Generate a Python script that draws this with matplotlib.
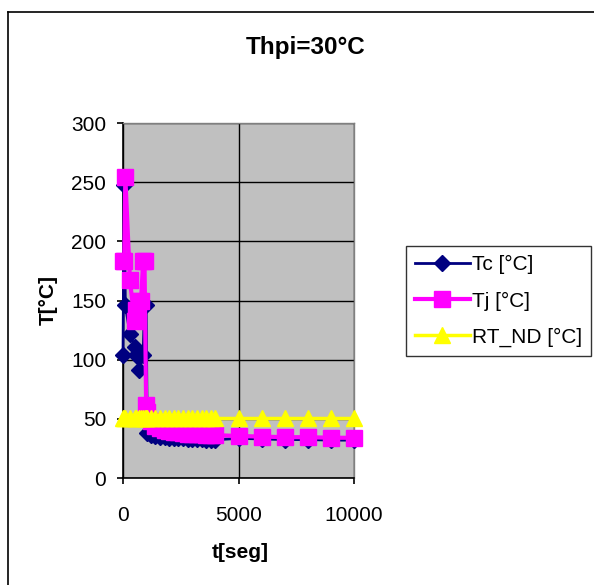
import matplotlib.pyplot as plt
from matplotlib.lines import Line2D

plt.rcParams["font.family"] = ["Liberation Sans", "DejaVu Sans"]

# time axis [s]
t = [0, 50, 100, 300, 500, 570, 700, 780, 870, 930, 1000, 1050,
     1200, 1400, 1600, 1800, 2000, 2200, 2400, 2600, 2800, 3000,
     3200, 3400, 3600, 3800, 4000,
     5000, 6000, 7000, 8000, 9000, 10000]

tc = [104, 248, 146, 122, 111, 104, 91, 104, 104, 146, 146, 38,
      36.5, 35.5, 35, 34.5, 34, 33.8, 33.6, 33.4, 33.2, 33,
      32.8, 32.6, 32.5, 32.4, 32.3,
      33.5, 33, 32.5, 32.5, 32, 32]

tj = [183, 183, 254, 167, 133, 142, 150, 150, 183, 183, 62, 56,
      48, 44, 42, 40.5, 39.5, 39, 38.5, 38, 37.5, 37.3,
      37, 36.8, 36.6, 36.4, 36.2,
      35.5, 35, 34.5, 34.5, 34, 34]

rt_nd = [51] * len(t)

fig = plt.figure(figsize=(5.94, 5.85), dpi=100)
ax = fig.add_axes([0.2071, 0.1829, 0.3889, 0.6068])
ax.set_facecolor("#C0C0C0")

ax.plot(t, tc, color="#000080", lw=2, marker="D", ms=8.5,
        label="Tc [°C]", zorder=3, clip_on=False)
ax.plot(t, tj, color="#FF00FF", lw=3, marker="s", ms=11,
        label="Tj [°C]", zorder=4, clip_on=False)
ax.plot(t, rt_nd, color="#FFFF00", lw=2.5, marker="^", ms=12,
        label="RT_ND [°C]", zorder=5, clip_on=False)

ax.set_xlim(0, 10000)
ax.set_ylim(0, 300)
ax.set_xticks([0, 5000, 10000])
ax.set_yticks(range(0, 301, 50))
ax.grid(True, color="black", lw=1)
ax.set_axisbelow(True)
for side in ["left", "bottom"]:
    ax.spines[side].set_color("black")
    ax.spines[side].set_linewidth(1.2)
for side in ["top", "right"]:
    ax.spines[side].set_color("#808080")
    ax.spines[side].set_linewidth(1)
ax.tick_params(axis="both", labelsize=15, direction="out", length=4,
               width=1.2, color="black")
ax.tick_params(axis="y", pad=8)
ax.tick_params(axis="x", pad=16)

fig.text(0.515, 0.918, "Thpi=30°C", ha="center", va="center",
         fontsize=17.5, fontweight="bold")
fig.text(0.404, 0.056, "t[seg]", ha="center", va="center",
         fontsize=15, fontweight="bold")
fig.text(0.081, 0.487, "T[°C]", ha="center", va="center", rotation=90,
         fontsize=15, fontweight="bold")

leg = fig.legend(loc="upper left", bbox_to_anchor=(0.6835, 0.5795),
                 bbox_transform=fig.transFigure, fontsize=15,
                 frameon=True, fancybox=False, borderaxespad=0,
                 handlelength=2.6, handletextpad=0.1, labelspacing=0.82,
                 borderpad=0.45)
leg.get_frame().set_edgecolor("black")
leg.get_frame().set_linewidth(1)

# chart-area border
fig.add_artist(Line2D([8 / 594, 8 / 594], [1 - 12 / 585, 0],
                      transform=fig.transFigure, color="black", lw=1.2))
fig.add_artist(Line2D([8 / 594, 1], [1 - 12 / 585, 1 - 12 / 585],
                      transform=fig.transFigure, color="black", lw=1.2))

fig.savefig("out.png", dpi=100)
